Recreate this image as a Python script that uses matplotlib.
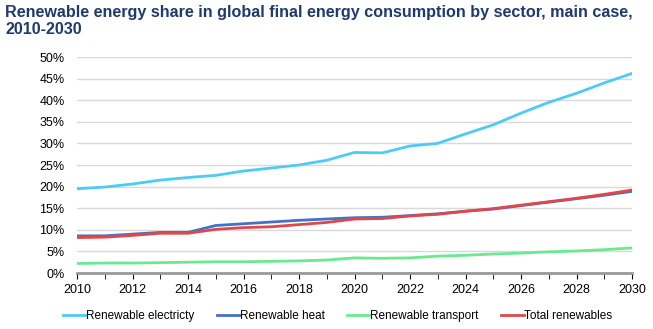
import matplotlib.pyplot as plt
from matplotlib.ticker import FuncFormatter

plt.rcParams['font.family'] = ['Liberation Sans', 'DejaVu Sans']

anios = list(range(2010, 2031))
electricidad = [19.5, 19.9, 20.6, 21.5, 22.1, 22.6, 23.6, 24.3, 25.0, 26.1, 27.9,
                27.8, 29.4, 30.0, 32.2, 34.3, 37.0, 39.5, 41.6, 44.0, 46.2]
calor = [8.6, 8.6, 9.0, 9.4, 9.4, 11.0, 11.4, 11.8, 12.2, 12.5, 12.8,
         12.9, 13.3, 13.7, 14.3, 14.8, 15.6, 16.4, 17.2, 18.0, 18.9]
transporte = [2.2, 2.3, 2.3, 2.4, 2.5, 2.6, 2.6, 2.7, 2.8, 3.0, 3.5,
              3.4, 3.5, 3.9, 4.1, 4.4, 4.6, 4.9, 5.1, 5.4, 5.8]
total = [8.2, 8.3, 8.7, 9.2, 9.2, 10.1, 10.5, 10.7, 11.2, 11.7, 12.5,
         12.6, 13.2, 13.6, 14.3, 14.9, 15.7, 16.5, 17.3, 18.2, 19.2]

fig = plt.figure(figsize=(6.53, 3.29), dpi=100)
ax = fig.add_axes([77 / 653, 1 - 273 / 329, (632 - 77) / 653, (273 - 57) / 329])

ax.plot(anios, electricidad, color="#4DCBF7", lw=2, label="Renewable electricty")
ax.plot(anios, calor, color="#4472C4", lw=2, label="Renewable heat")
ax.plot(anios, transporte, color="#6BE98F", lw=2, label="Renewable transport")
ax.plot(anios, total, color="#E0474C", lw=2, label="Total renewables")

ax.set_xlim(2010, 2030)
ax.set_ylim(0, 50)
ax.set_yticks(range(0, 51, 5))
ax.yaxis.set_major_formatter(FuncFormatter(lambda v, p: f"{v:.0f}%"))
ax.set_xticks(range(2010, 2031, 2))
ax.set_xticks(range(2010, 2031), minor=True)
ax.grid(axis="y", color="#D9D9D9", lw=1)
ax.set_axisbelow(True)

for s in ["top", "right", "left"]:
    ax.spines[s].set_visible(False)
ax.spines["bottom"].set_color("#999999")
ax.spines["bottom"].set_linewidth(2)
ax.tick_params(axis="y", length=0, labelsize=9, pad=9)
ax.tick_params(axis="x", which="both", direction="out", length=4, color="black",
               labelsize=9, pad=4)

fig.text(0.008, 0.985, "Renewable energy share in global final energy consumption by sector, main case,\n2010-2030",
         ha="left", va="top", fontsize=11.6, fontweight="bold", color="#1F3A6E", linespacing=1.15)

fig.legend(loc="center", bbox_to_anchor=(0.517, 1 - 316 / 329), ncol=4, frameon=False,
           fontsize=8.5, handlelength=1.95, handletextpad=0.05, columnspacing=1.85,
           borderpad=0, borderaxespad=0)

plt.savefig("out.png", dpi=100)
